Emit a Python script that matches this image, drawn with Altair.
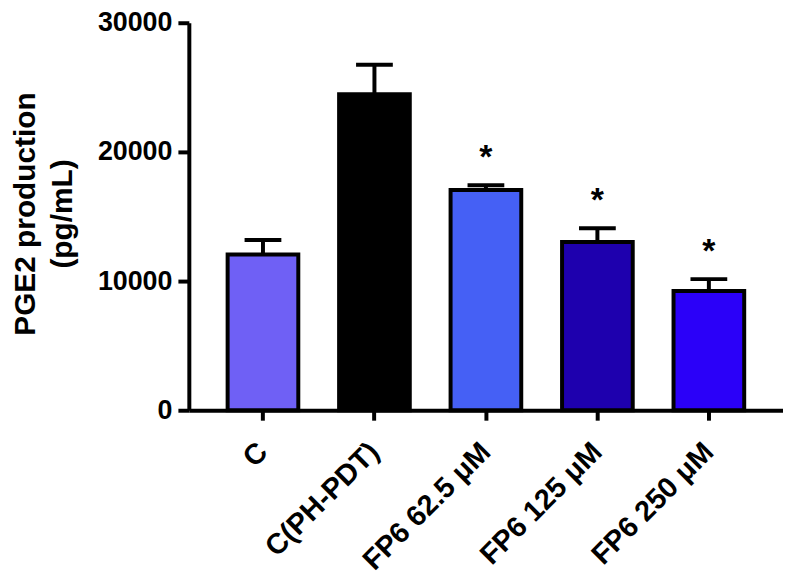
import altair as alt
import pandas as pd

categories = ["C", "C(PH-PDT)", "FP6 62.5 μM", "FP6 125 μM", "FP6 250 μM"]
means = [12050, 24470, 17050, 13030, 9240]
err_tops = [13180, 26740, 17420, 14090, 10150]
stars = ["", "", "*", "*", "*"]
colors = ["#6F60F5", "#000000", "#4560F5", "#1E00AE", "#2B00F8"]
y_ticks = [0, 10000, 20000, 30000]

df = pd.DataFrame({"cat": categories, "mean": means, "err": err_tops, "star": stars})

FONT = "Liberation Sans"

x = alt.X(
    "cat:N",
    sort=categories,
    scale=alt.Scale(paddingInner=0.366, paddingOuter=0.348),
    axis=alt.Axis(
        title=None,
        labelAngle=-45,
        labelAlign="right",
        labelBaseline="middle",
        labelFont=FONT,
        labelFontSize=29,
        labelFontWeight="bold",
        labelColor="black",
        labelPadding=27,
        tickSize=10,
        tickWidth=4,
        tickColor="black",
        domainWidth=4,
        domainColor="black",
        grid=False,
    ),
)

yscale = alt.Scale(domain=[0, 30000], nice=False)

bars = alt.Chart(df).mark_bar(stroke="black", strokeWidth=4).encode(
    x=x,
    y=alt.Y(
        "mean:Q",
        scale=yscale,
        axis=alt.Axis(
            values=y_ticks,
            format="d",
            labelFont=FONT,
            labelFontSize=27,
            labelFontWeight="bold",
            labelColor="black",
            labelPadding=6,
            tickSize=11,
            tickWidth=4,
            tickColor="black",
            domainWidth=4,
            domainColor="black",
            grid=False,
            title=["PGE2 production", "(pg/mL)"],
            titleFont=FONT,
            titleFontSize=30,
            titleFontWeight="bold",
            titleColor="black",
            titleAngle=-90,
            titleX=-155,
            titleY=192,
            titleAlign="center",
            titleBaseline="alphabetic",
            titleLineHeight=37,
        ),
    ),
    color=alt.Color("cat:N", scale=alt.Scale(domain=categories, range=colors), legend=None),
)

stems = alt.Chart(df).mark_rule(color="black", strokeWidth=4).encode(
    x=alt.X("cat:N", sort=categories),
    y=alt.Y("mean:Q", scale=yscale),
    y2="err:Q",
)

caps = alt.Chart(df).mark_tick(color="black", size=37, thickness=4, opacity=1).encode(
    x=alt.X("cat:N", sort=categories),
    y=alt.Y("err:Q", scale=yscale),
)

star_text = alt.Chart(df).mark_text(
    font=FONT, fontSize=34, fontWeight="bold", color="black", baseline="alphabetic", dy=-17
).encode(
    x=alt.X("cat:N", sort=categories),
    y=alt.Y("err:Q", scale=yscale),
    text="star:N",
)

chart = (
    alt.layer(bars, stems, caps, star_text)
    .properties(
        width=598,
        height=390,
        autosize=alt.AutoSizeParams(type="none"),
        padding={"left": 182, "top": 13, "right": 0, "bottom": 166},
        background="white",
    )
    .configure_view(stroke=None)
)

chart.save("out.html", embed_options={"renderer": "svg", "actions": False})
